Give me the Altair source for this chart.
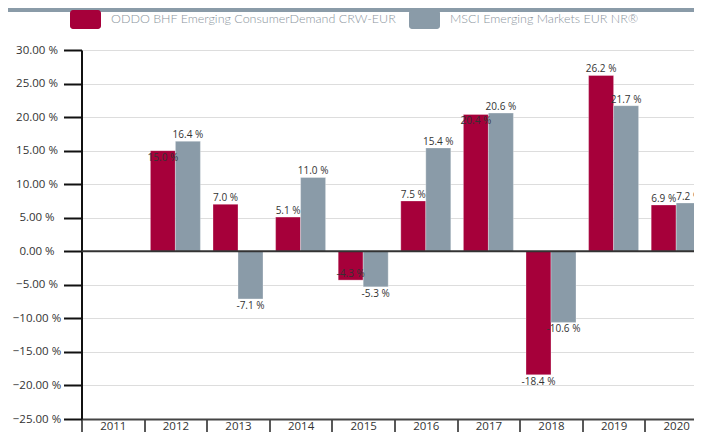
import altair as alt
import pandas as pd

years = ["2011", "2012", "2013", "2014", "2015", "2016", "2017", "2018", "2019", "2020"]
fund_name = "ODDO BHF Emerging ConsumerDemand CRW-EUR"
bench_name = "MSCI Emerging Markets EUR NR\u00ae"
fund_values = [None, 15.0, 7.0, 5.1, -4.3, 7.5, 20.4, -18.4, 26.2, 6.9]
bench_values = [None, 16.4, -7.1, 11.0, -5.3, 15.4, 20.6, -10.6, 21.7, 7.2]
# labels that the original draws inside the bar end (where they would collide)
fund_label_inside = [False, True, False, False, True, False, True, False, False, False]
bench_label_inside = [False] * 10

RED = "#a6003a"
GRAY = "#8a9ba8"
FONT = "Open Sans"
LEGEND_FONT = "Lato"

rows = []
for i, y in enumerate(years):
    for name, vals, ins in ((fund_name, fund_values, fund_label_inside),
                            (bench_name, bench_values, bench_label_inside)):
        v = vals[i]
        if v is None:
            continue
        above = (v >= 0 and not ins[i]) or (v < 0 and ins[i])
        rows.append({"year": y, "series": name, "value": v,
                     "label": f"{v:.1f} %", "above": above})
df = pd.DataFrame(rows)

PLOT_W = 612.5
PLOT_H = 369
step = 62.6
xscale = alt.Scale(domain=years, range=[0, step * len(years)], paddingInner=0, paddingOuter=0)
yscale = alt.Scale(domain=[-25, 30], nice=False, zero=False)
series_order = [fund_name, bench_name]

legend_path = ("M-0.81,-0.613 H0.81 A0.19,0.19 0 0 1 1,-0.42 V0.42 A0.19,0.19 0 0 1 0.81,0.613 "
               "H-0.81 A0.19,0.19 0 0 1 -1,0.42 V-0.42 A0.19,0.19 0 0 1 -0.81,-0.613 Z")

x_axis = alt.Axis(title=None, labelAngle=0, tickBand="extent", tickSize=18,
                  tickWidth=1.5, tickColor="#222", domainColor="#444",
                  domainWidth=2, labelPadding=-17, labelFont=FONT,
                  labelFontSize=11.5, labelColor="#333", grid=False,
                  labelOverlap=False, labelBaseline="top")
y_axis = alt.Axis(title=None, values=list(range(-25, 31, 5)),
                  labelExpr="format(datum.value, '.2f') + ' %'",
                  tickSize=18, tickWidth=2, tickColor="#111",
                  domainColor="#111", domainWidth=2,
                  grid=True, gridColor="#dddddd", gridWidth=1,
                  labelAlign="center", labelPadding=27, labelFont=FONT,
                  labelFontSize=11.5, labelColor="#333",
                  labelOverlap=False, labelFlush=False, labelBound=False)

xoff = alt.XOffset("series:N", sort=series_order,
                   scale=alt.Scale(domain=series_order, paddingInner=0, paddingOuter=0.252))

base = alt.Chart(df).encode(
    x=alt.X("year:N", scale=xscale, sort=years, axis=x_axis),
    xOffset=xoff,
    y=alt.Y("value:Q", scale=yscale, axis=y_axis),
)

bars = base.mark_bar(stroke="#ffffff", strokeWidth=0.6, strokeOpacity=0.5).encode(
    color=alt.Color("series:N", sort=series_order,
                    scale=alt.Scale(domain=series_order, range=[RED, GRAY]),
                    legend=alt.Legend(title=None, orient="none", direction="horizontal",
                                      legendX=-11.5, legendY=-46.5,
                                      symbolType=legend_path, symbolSize=961,
                                      symbolStrokeWidth=0, symbolOpacity=1,
                                      labelFont=LEGEND_FONT, labelFontSize=12.5,
                                      labelFontWeight=300,
                                      labelColor="#8a949c", labelOffset=10,
                                      columnPadding=11, labelLimit=500, padding=0)),
)

zero = alt.Chart().mark_rule(color="#333333", strokeWidth=2).encode(
    y=alt.datum(0, scale=yscale, axis=y_axis))

top_band = alt.Chart().mark_rect(color=GRAY).encode(
    x=alt.value(-73.5), x2=alt.value(PLOT_W), y=alt.value(-42), y2=alt.value(-38))

text_common = dict(font=FONT, fontSize=10, color="#333333")
labels_above = base.transform_filter("datum.above").mark_text(
    baseline="bottom", dy=-1, **text_common).encode(text="label:N")
labels_below = base.transform_filter("!datum.above").mark_text(
    baseline="top", dy=2, **text_common).encode(text="label:N")

chart = alt.layer(bars, zero, labels_above, labels_below, top_band).properties(
    width=PLOT_W, height=PLOT_H,
    padding={"left": 73.5, "top": 42, "right": 0, "bottom": 424 - 42 - PLOT_H},
    autosize=alt.AutoSizeParams(type="none"),
).configure_view(stroke=None)

chart.save("out.html", embed_options={"renderer": "svg", "actions": False})
